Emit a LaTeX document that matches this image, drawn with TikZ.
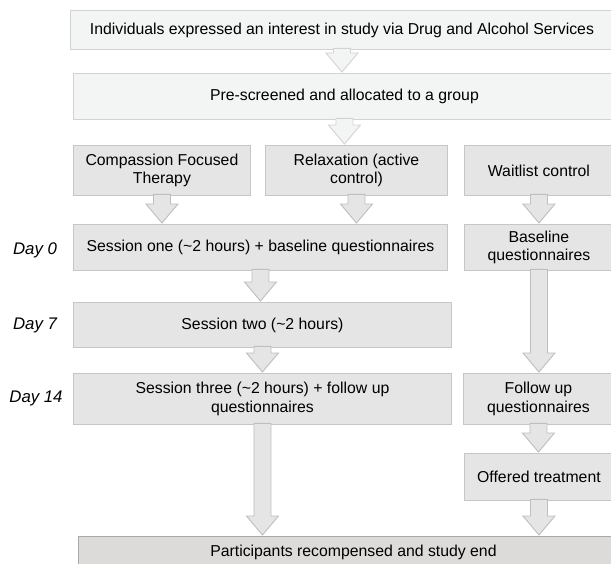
\documentclass[tikz,border=0pt]{standalone}
\usepackage{fontspec}
\setmainfont{Liberation Sans}
\usetikzlibrary{calc}
\definecolor{lfill}{HTML}{F3F4F4}
\definecolor{lline}{HTML}{D2D2D2}
\definecolor{gfill}{HTML}{E5E5E5}
\definecolor{gline}{HTML}{C6C6C6}
\definecolor{ffill}{HTML}{DCDBDA}
\definecolor{fline}{HTML}{A9A9A9}
\definecolor{aline}{HTML}{BEBEBE}
\tikzset{
  base/.style={anchor=north west, inner sep=0pt, align=center, line width=0.9pt,
    font=\fontsize{15.8}{18.5}\selectfont},
  lightbox/.style={base, fill=lfill, draw=lline},
  greybox/.style={base, fill=gfill, draw=gline},
  finalbox/.style={base, fill=ffill, draw=fline},
  daylabel/.style={font=\fontsize{16.8}{19}\selectfont\itshape, inner sep=0pt},
  lightarrow/.style={fill=lfill, draw=lline, line width=0.9pt},
  greyarrow/.style={fill=gfill, draw=aline, line width=0.9pt},
}
\newcommand\blockarrow[3]{%
  \path[#1] let \p1=(#2.south), \p2=(#3.north) in
  (\x1-8.5pt,\y1+1.5pt) -- (\x1-8.5pt,\y2+20pt) -- (\x1-16pt,\y2+20pt) --
  (\x1,\y2+1pt) -- (\x1+16pt,\y2+20pt) -- (\x1+8.5pt,\y2+20pt) --
  (\x1+8.5pt,\y1+1.5pt) -- cycle;}
\begin{document}
\begin{tikzpicture}[x=1pt,y=1pt]
\useasboundingbox (0,0) rectangle (611,-563);
\clip (0,0) rectangle (611,-563);
% boxes
\node[lightbox, minimum width=543pt, minimum height=39pt] (b1) at (70,-10)
  {Individuals expressed an interest in study via Drug and Alcohol Services};
\node[lightbox, minimum width=542pt, minimum height=46pt] (b2) at (73,-73)
  {Pre-screened and allocated to a group};
\node[greybox, minimum width=177pt, minimum height=50pt] (cft) at (73,-145)
  {Compassion Focused\\Therapy};
\node[greybox, minimum width=182pt, minimum height=50pt] (rel) at (265,-145)
  {Relaxation (active\\control)};
\node[greybox, minimum width=149pt, minimum height=50pt] (wait) at (464,-145)
  {Waitlist control};
\node[greybox, minimum width=374pt, minimum height=46pt] (s1) at (73,-224)
  {Session one (\textasciitilde 2 hours) + baseline questionnaires};
\node[greybox, minimum width=149pt, minimum height=46pt] (bq) at (464,-224)
  {Baseline\\questionnaires};
\node[greybox, minimum width=378pt, minimum height=45pt] (s2) at (73,-302)
  {Session two (\textasciitilde 2 hours)};
\node[greybox, minimum width=378pt, minimum height=51pt] (s3) at (73,-373)
  {Session three (\textasciitilde 2 hours) + follow up\\questionnaires};
\node[greybox, minimum width=150pt, minimum height=51pt] (fq) at (463,-373)
  {Follow up\\questionnaires};
\node[greybox, minimum width=149pt, minimum height=47pt] (off) at (464,-453)
  {Offered treatment};
\node[finalbox, minimum width=550pt, minimum height=32pt] (end) at (78,-536)
  {Participants recompensed and study end};
% day labels
\node[daylabel] (d0) at (35,-250) {Day 0};
\node[daylabel] (d7) at (35,-325) {Day 7};
\node[daylabel] (d14) at (36,-398) {Day 14};
% arrows
\blockarrow{lightarrow}{b1}{b2}
\blockarrow{lightarrow}{b2}{rel}
\blockarrow{greyarrow}{cft}{s1}
\blockarrow{greyarrow}{rel}{s1}
\blockarrow{greyarrow}{wait}{bq}
\blockarrow{greyarrow}{s1}{s2}
\blockarrow{greyarrow}{s2}{s3}
\blockarrow{greyarrow}{s3}{end}
\blockarrow{greyarrow}{bq}{fq}
\blockarrow{greyarrow}{fq}{off}
\blockarrow{greyarrow}{off}{end}
\end{tikzpicture}
\end{document}
